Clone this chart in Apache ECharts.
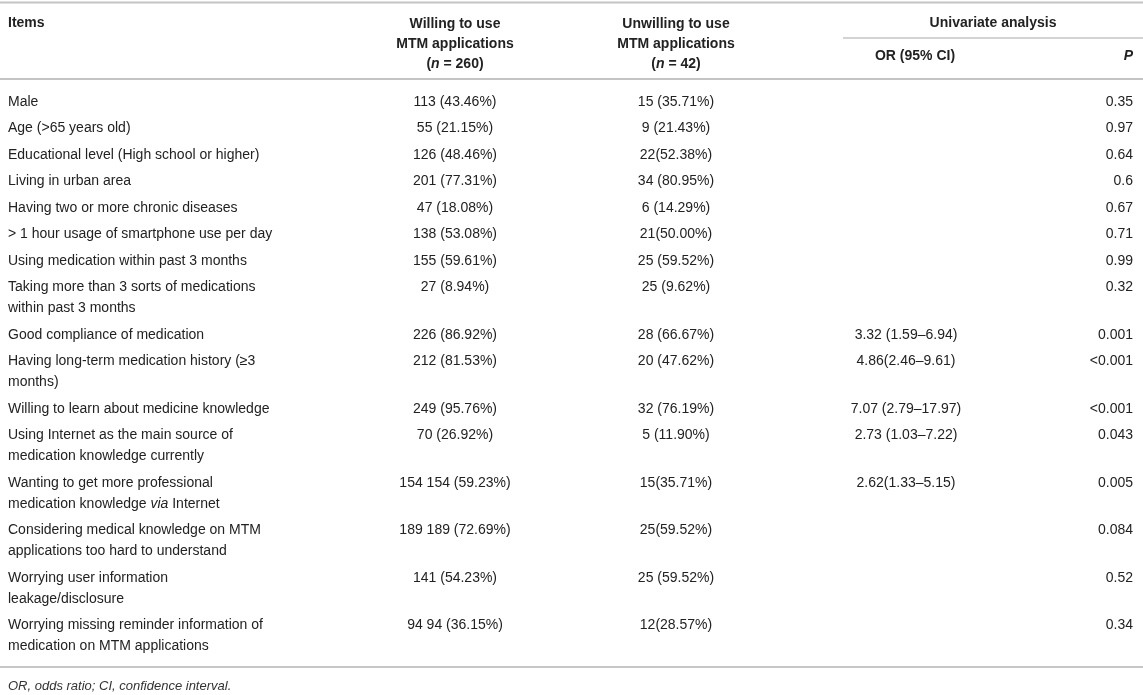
<!DOCTYPE html>
<html>
<head>
<meta charset="utf-8">
<script src="https://cdn.jsdelivr.net/npm/echarts@6/dist/echarts.min.js"></script>
<style>
html,body{margin:0;padding:0;background:#fff;}
#chart{width:1143px;height:695px;}
</style>
</head>
<body>
<div id="chart"></div>
<script>
// ---- data ----
const headerItems = 'Items';
const headerWilling = ['Willing to use', 'MTM applications', '({bi|n} = 260)'];
const headerUnwilling = ['Unwilling to use', 'MTM applications', '({bi|n} = 42)'];
const headerGroup = 'Univariate analysis';
const headerOR = 'OR (95% CI)';
const headerP = '{bi|P}';
const items = [
  'Male',
  'Age (>65 years old)',
  'Educational level (High school or higher)',
  'Living in urban area',
  'Having two or more chronic diseases',
  '> 1 hour usage of smartphone use per day',
  'Using medication within past 3 months',
  'Taking more than 3 sorts of medications\nwithin past 3 months',
  'Good compliance of medication',
  'Having long-term medication history (\u22653\nmonths)',
  'Willing to learn about medicine knowledge',
  'Using Internet as the main source of\nmedication knowledge currently',
  'Wanting to get more professional\nmedication knowledge {i|via} Internet',
  'Considering medical knowledge on MTM\napplications too hard to understand',
  'Worrying user information\nleakage/disclosure',
  'Worrying missing reminder information of\nmedication on MTM applications'
];
const willing = ['113 (43.46%)', '55 (21.15%)', '126 (48.46%)', '201 (77.31%)', '47 (18.08%)', '138 (53.08%)', '155 (59.61%)', '27 (8.94%)', '226 (86.92%)', '212 (81.53%)', '249 (95.76%)', '70 (26.92%)', '154 154 (59.23%)', '189 189 (72.69%)', '141 (54.23%)', '94 94 (36.15%)'];
const unwilling = ['15 (35.71%)', '9 (21.43%)', '22(52.38%)', '34 (80.95%)', '6 (14.29%)', '21(50.00%)', '25 (59.52%)', '25 (9.62%)', '28 (66.67%)', '20 (47.62%)', '32 (76.19%)', '5 (11.90%)', '15(35.71%)', '25(59.52%)', '25 (59.52%)', '12(28.57%)'];
const orCI = ['', '', '', '', '', '', '', '', '3.32 (1.59\u20136.94)', '4.86(2.46\u20139.61)', '7.07 (2.79\u201317.97)', '2.73 (1.03\u20137.22)', '2.62(1.33\u20135.15)', '', '', ''];
const pValues = ['0.35', '0.97', '0.64', '0.6', '0.67', '0.71', '0.99', '0.32', '0.001', '<0.001', '<0.001', '0.043', '0.005', '0.084', '0.52', '0.34'];
const footnote = '{i|OR, odds ratio; CI, confidence interval.}';

// ---- layout (style) ----
const W = 1143, H = 695;
const FONT = '"Liberation Sans", Arial, Helvetica, sans-serif';
const TXT = '#222';
const col = {items: 8, willing: 455, unwilling: 676, or: 906, orHead: 915, group: 993, p: 1133};
const bodyTop = 88.5, rowPad = 5.5, lineH = 21;
const headLineY = [24, 44, 64];
const rules = [
  {y: 2.5, x1: 0, x2: W, w: 2, c: '#c4c4c4'},
  {y: 38, x1: 843, x2: W, w: 1.5, c: '#c4c4c4'},
  {y: 79, x1: 0, x2: W, w: 2, c: '#c4c4c4'},
  {y: 667, x1: 0, x2: W, w: 1.5, c: '#b4b4b4'}
];

const rich = {
  i: {fontStyle: 'italic', fontSize: 14, fontFamily: FONT, fill: TXT},
  bi: {fontStyle: 'italic', fontWeight: 'bold', fontSize: 14, fontFamily: FONT, fill: TXT}
};

// row tops from line counts
const lineCounts = items.map(s => s.split('\n').length);
const rowTops = [];
let acc = bodyTop;
lineCounts.forEach(n => { rowTops.push(acc); acc += rowPad + n * lineH; });

function txt(api, x, y, text, align, opts) {
  const p = api.coord([x, y]);
  opts = opts || {};
  return {
    type: 'text', x: p[0], y: p[1],
    style: {
      text: text, fill: TXT,
      fontSize: opts.size || 14, fontFamily: FONT,
      fontWeight: opts.bold ? 'bold' : 'normal',
      fontStyle: opts.italic ? 'italic' : 'normal',
      align: align, verticalAlign: 'middle',
      rich: opts.bold ? {bi: rich.bi, i: rich.i} : rich
    }
  };
}

const chart = echarts.init(document.getElementById('chart'), null, {renderer: 'canvas'});
chart.setOption({
  animation: false,
  grid: {left: 0, right: 0, top: 0, bottom: 0},
  xAxis: {type: 'value', min: 0, max: W, show: false},
  yAxis: {type: 'value', min: 0, max: H, inverse: true, show: false},
  series: [
    {
      type: 'custom', name: 'rules', clip: false,
      data: rules.map((r, i) => [i]),
      renderItem: function (params, api) {
        const r = rules[params.dataIndex];
        const a = api.coord([r.x1, r.y]), b = api.coord([r.x2, r.y]);
        return {type: 'line', shape: {x1: a[0], y1: a[1], x2: b[0], y2: b[1]},
          style: {stroke: r.c, lineWidth: r.w}};
      }
    },
    {
      type: 'custom', name: 'header', clip: false,
      data: [[0]],
      renderItem: function (params, api) {
        const ch = [];
        ch.push(txt(api, col.items, headLineY[0] - 1, headerItems, 'left', {bold: true}));
        headerWilling.forEach((s, k) => ch.push(txt(api, col.willing, headLineY[k], s, 'center', {bold: true})));
        headerUnwilling.forEach((s, k) => ch.push(txt(api, col.unwilling, headLineY[k], s, 'center', {bold: true})));
        ch.push(txt(api, col.group, headLineY[0] - 1, headerGroup, 'center', {bold: true}));
        ch.push(txt(api, col.orHead, 56, headerOR, 'center', {bold: true}));
        ch.push(txt(api, col.p, 56, headerP, 'right', {bold: true}));
        return {type: 'group', children: ch};
      }
    },
    {
      type: 'custom', name: 'cells', clip: false,
      data: items.map((s, i) => [i]),
      renderItem: function (params, api) {
        const i = params.dataIndex;
        const y0 = rowTops[i] + rowPad / 2 + lineH / 2;
        const ch = [];
        items[i].split('\n').forEach((line, k) => {
          ch.push(txt(api, col.items, y0 + k * lineH, line, 'left'));
        });
        ch.push(txt(api, col.willing, y0, willing[i], 'center'));
        ch.push(txt(api, col.unwilling, y0, unwilling[i], 'center'));
        if (orCI[i]) ch.push(txt(api, col.or, y0, orCI[i], 'center'));
        ch.push(txt(api, col.p, y0, pValues[i], 'right'));
        return {type: 'group', children: ch};
      }
    },
    {
      type: 'custom', name: 'footnote', clip: false,
      data: [[0]],
      renderItem: function (params, api) {
        const t = txt(api, col.items, 686, footnote, 'left', {size: 13});
        t.style.rich = {i: {fontStyle: 'italic', fontSize: 13, fontFamily: FONT, fill: '#333'}};
        return t;
      }
    }
  ]
});
</script>
</body>
</html>
